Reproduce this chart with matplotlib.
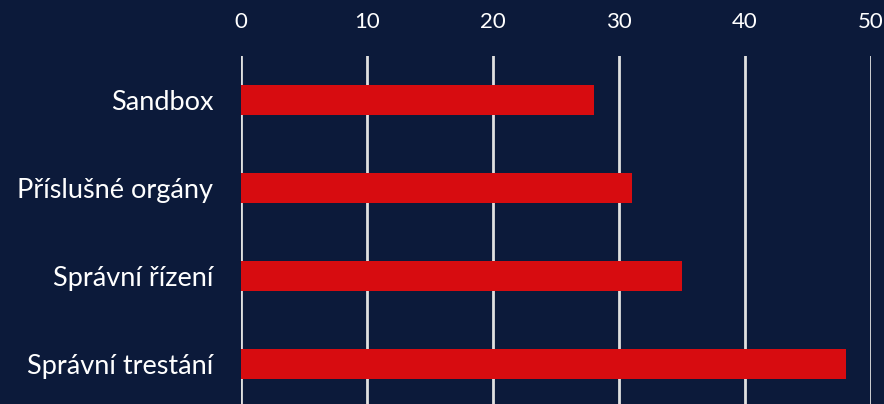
#!/usr/bin/env python3
"""Horizontal bar chart on a dark navy background."""

import matplotlib
matplotlib.use("Agg")
import matplotlib.pyplot as plt

categories = ["Sandbox", "Příslušné orgány", "Správní řízení", "Správní trestání"]
values = [28, 31, 35, 48]
x_ticks = [0, 10, 20, 30, 40, 50]

BG = "#0C1A3A"
BAR = "#D70C10"
GRID = "#E0E0E0"

plt.rcParams["font.family"] = ["Lato", "DejaVu Sans"]

fig = plt.figure(figsize=(8.84, 4.04), dpi=100, facecolor=BG)
ax = fig.add_axes([241 / 884, -4 / 404, 630 / 884, 352 / 404], facecolor=BG)

ax.barh(range(len(categories)), values, height=0.34, color=BAR, zorder=3)

ax.set_xlim(0, 50)
ax.set_ylim(len(categories) - 0.5, -0.5)
ax.set_xticks(x_ticks)
ax.set_yticks(range(len(categories)))
ax.set_yticklabels(categories)

ax.xaxis.tick_top()
ax.tick_params(axis="x", length=0, pad=17, labelsize=16, labelcolor="white")
ax.tick_params(axis="y", length=0, pad=20, labelsize=19.5, labelcolor="white")

ax.grid(axis="x", color=GRID, linewidth=2, zorder=0)
for spine in ax.spines.values():
    spine.set_visible(False)

fig.savefig("out.png", dpi=100, facecolor=BG)
